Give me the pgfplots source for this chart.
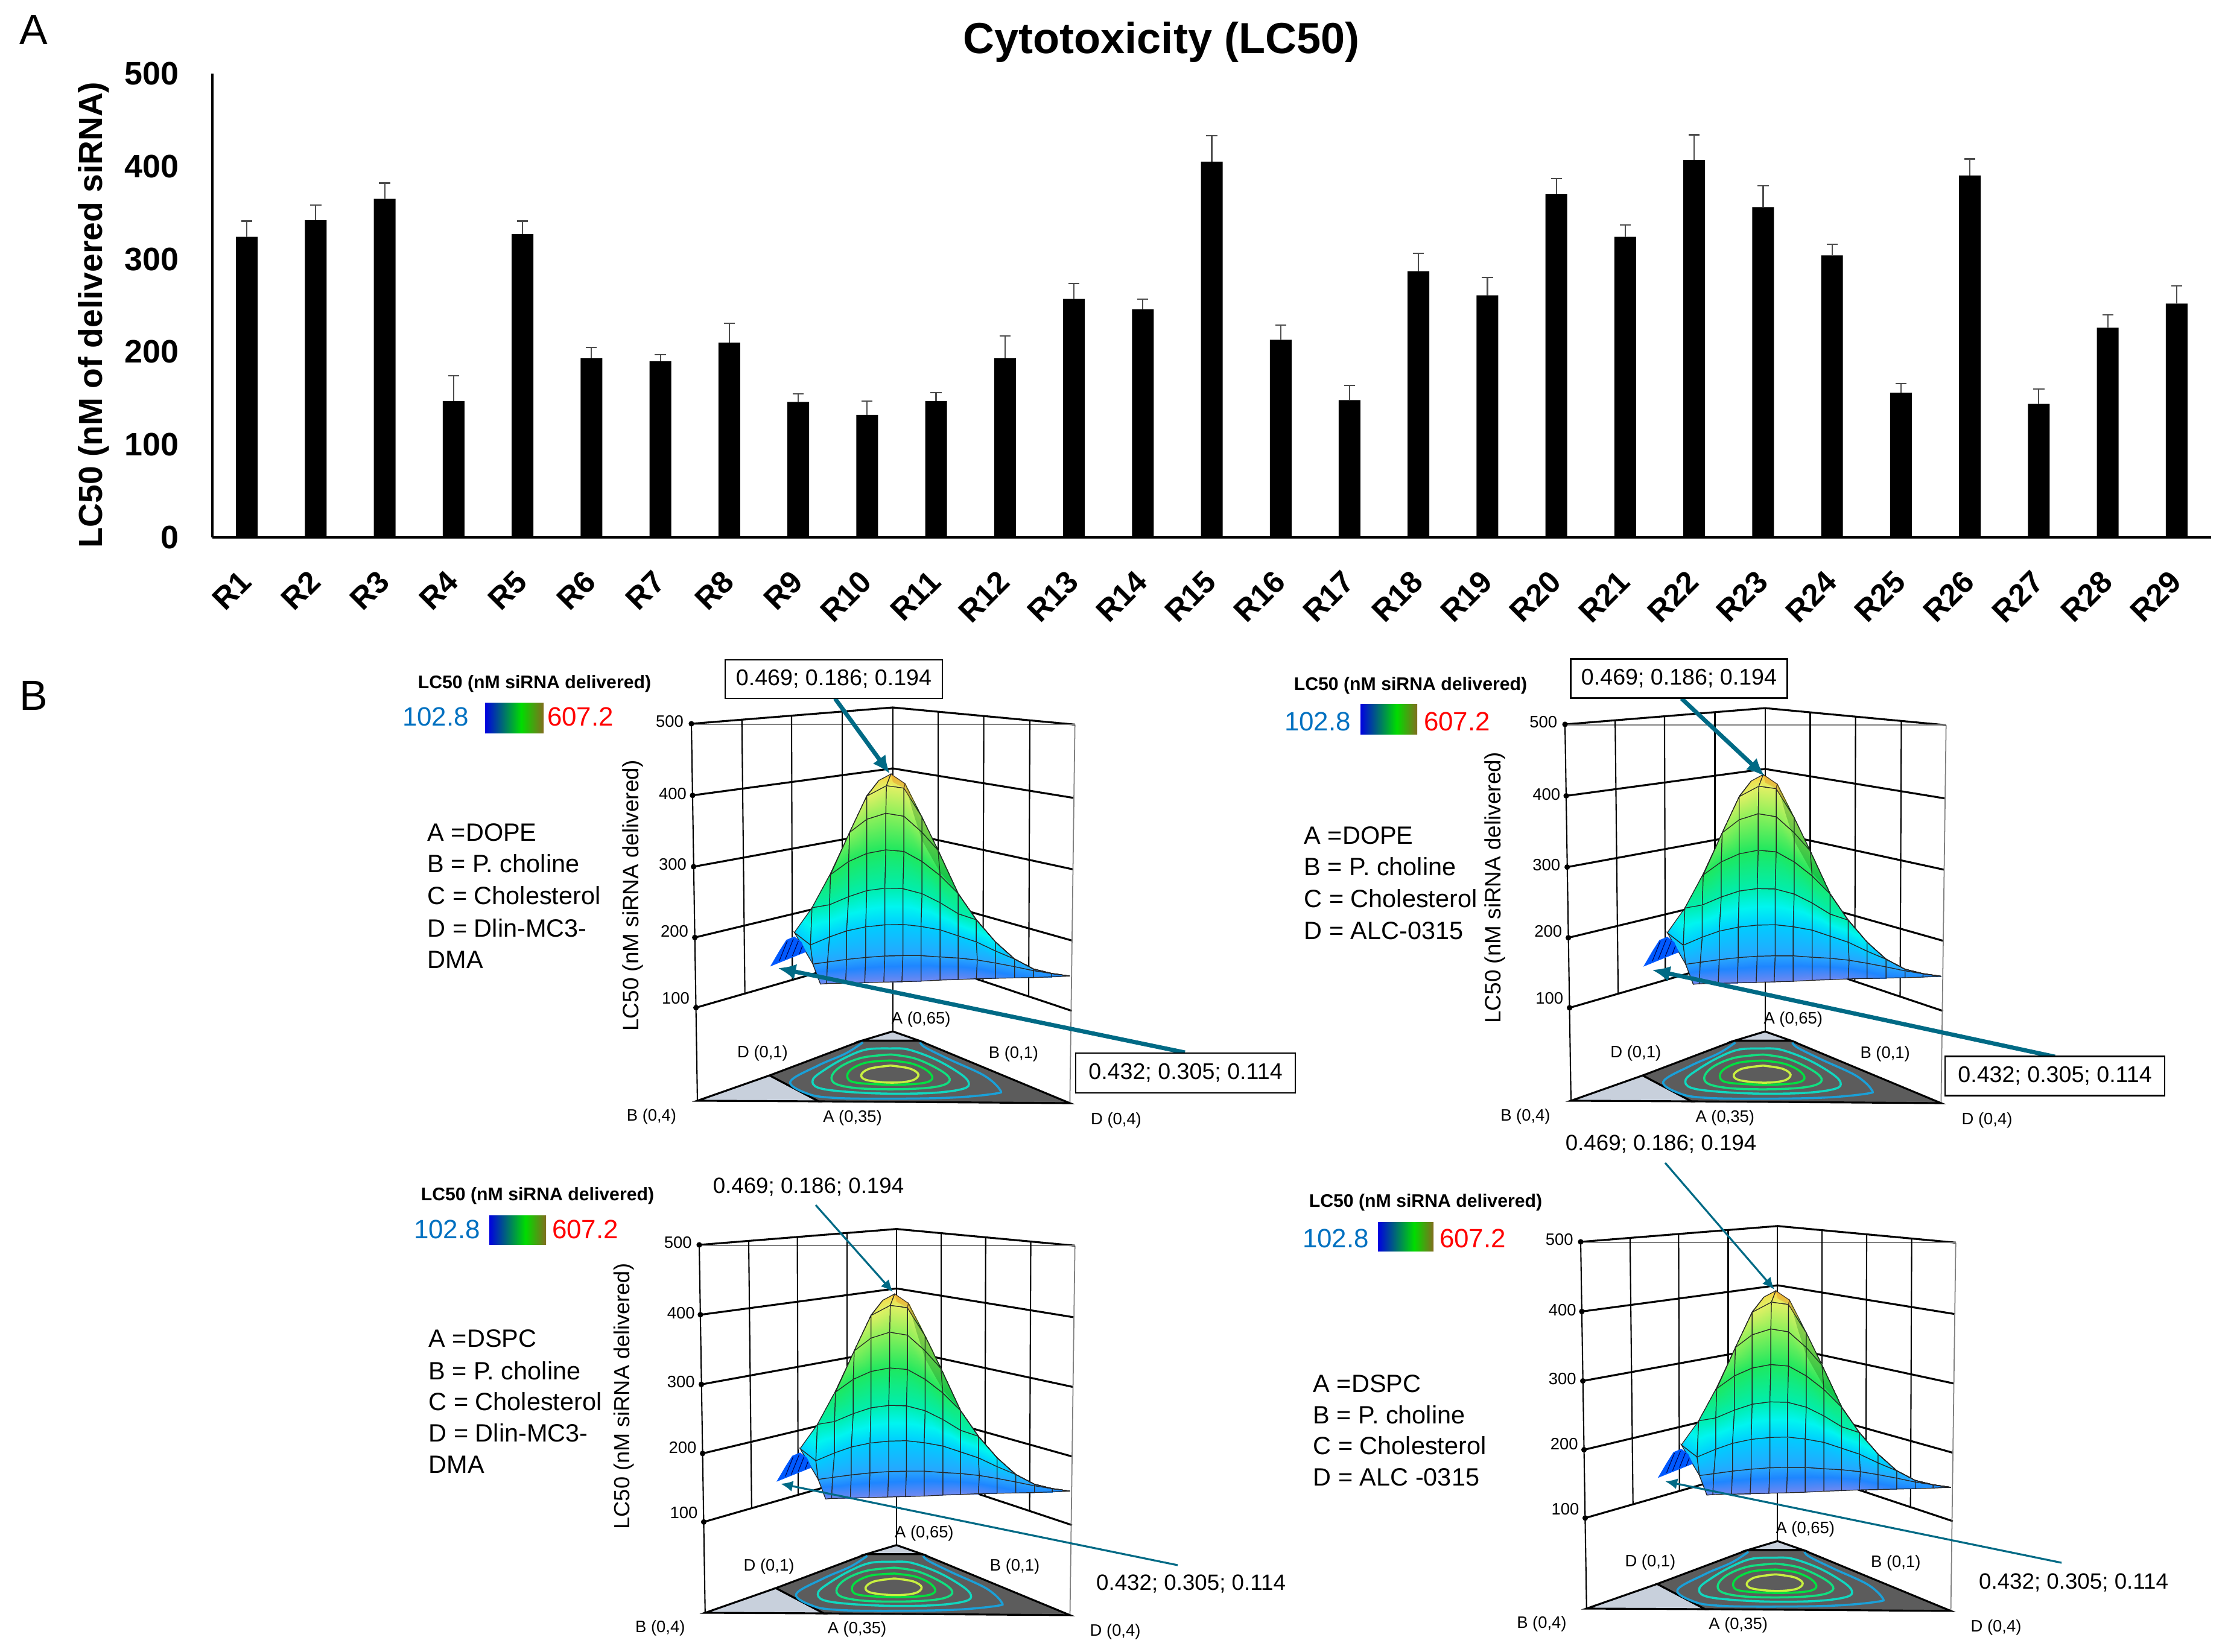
\documentclass[border=0pt]{standalone}
\usepackage{fontspec}
\setmainfont{Liberation Sans}
\usepackage{pgfplots}
\usepackage{pgfplotstable}
\pgfplotsset{compat=1.18}
\usetikzlibrary{arrows.meta}
\newcommand{\fs}[1]{\fontsize{#1}{#1}\selectfont}
\definecolor{arrowteal}{HTML}{006A85}
\definecolor{floordark}{HTML}{5C5C5C}
\definecolor{floorlight}{HTML}{C8D0DC}

% LC50 per formulation, upper end of the error bar minus bar
\pgfplotstableread{
x y err
1 324 17
2 342 16
3 365 17
4 147 27
5 327 14
6 193 12
7 190 7
8 210 21
9 146 9
10 132 15
11 147 9
12 193 24
13 257 17
14 246 11
15 405 28
16 213 16
17 148 16
18 287 19
19 261 19
20 370 17
21 324 13
22 407 27
23 356 23
24 304 12
25 156 10
26 390 18
27 144 16
28 226 14
29 252 19
}\barsdata

% response surface, projected, 8 rows of 16 points
\pgfplotstableread{
x y z
300 1115 0
300 1115 0
330 1112 0
425 1110 0
520 1108 0
615 1105 0
705 1103 0
800 1100 0
895 1095 0
985 1092 0
1075 1088 0.1
1170 1086 0.3
1265 1084 0.5
1360 1082 0.6
1450 1079 0.7
1540 1075 0.7
262 1015 1
262 1015 1
335 1005 1
430 992 1
525 982 1
620 975 1
710 973 1
800 973 1
895 980 1
985 985 1
1080 995 1
1170 1010 1
1265 1028 1
1360 1048 0.9
1450 1062 0.7
1540 1075 0.7
170 858 2
250 920 2
345 880 2
430 850 2
525 830 2
620 820 2
710 818 2
800 828 2
895 845 2
985 875 2
1075 905 2
1170 950 2
1265 990 1.5
1360 1040 1
1450 1062 0.7
1540 1075 0.7
258 735 3
258 735 3
345 720 3
440 680 3
530 650 3
620 638 3
710 640 3
805 665 3
895 710 3
985 765 3
1075 795 3
1170 905 2.3
1265 990 1.5
1360 1040 1
1450 1062 0.7
1540 1075 0.7
350 565 4
350 565 4
350 570 4
440 505 4
530 465 4
625 447 4
715 455 4
805 505 4
895 575 4
985 665 3.6
1075 795 3
1170 905 2.3
1265 990 1.5
1360 1040 1
1450 1062 0.7
1540 1075 0.7
445 360 5
445 360 5
445 360 5
445 360 5
530 295 5
625 265 5
715 280 5
805 360 5
885 450 4.7
985 665 3.6
1075 795 3
1170 905 2.3
1265 990 1.5
1360 1040 1
1450 1062 0.7
1540 1075 0.7
530 180 6
530 180 6
530 180 6
530 180 6
530 180 6
628 128 6
715 140 6
805 285 5.6
885 450 4.7
985 665 3.6
1075 795 3
1170 905 2.3
1265 990 1.5
1360 1040 1
1450 1062 0.7
1540 1075 0.7
530 178 6
530 178 6
530 178 6
530 178 6
590 102 6.5
650 70 7
720 118 6.6
805 285 5.6
885 450 4.7
985 665 3.6
1075 795 3
1170 905 2.3
1265 990 1.5
1360 1040 1
1450 1062 0.7
1540 1075 0.7
}\surfdata

\pgfplotsset{
  lcmap/.style={colormap={lc}{
    rgb255(0pt)=(112,136,240); rgb255(6pt)=(30,134,255); rgb255(10pt)=(40,165,255);
    rgb255(20pt)=(0,205,255); rgb255(25pt)=(0,245,240); rgb255(30pt)=(0,238,175);
    rgb255(40pt)=(30,232,95); rgb255(50pt)=(140,240,90); rgb255(60pt)=(225,240,100);
    rgb255(70pt)=(255,205,60)}},
  wall/.style={black,line width=0.9pt},
  rib/.style={black,line width=0.6pt},
  ring/.style={line width=1pt,smooth,tension=0.6},
}

% one 3D panel: x, y of the top-left corner from the page bottom, width, height (mm)
\newcommand{\surfpanel}[4]{%
\begin{axis}[
  at={(#1mm,#2mm)},anchor=north west,scale only axis,width=#3mm,height=#4mm,
  hide axis,clip=false,y dir=reverse,
  xmin=-342,xmax=1566,ymin=-180,ymax=1695,lcmap,point meta min=0,point meta max=7]
  % back walls
  \addplot[wall] coordinates {(-342,-180)(659,-261)(1565,-176)};
  \addplot[wall] coordinates {(-336,176)(659,42)(1560,189)};
  \addplot[wall] coordinates {(-331,531)(659,350)(1555,544)};
  \addplot[wall] coordinates {(-325,883)(659,647)(1553,899)};
  \addplot[wall] coordinates {(-319,1232)(659,950)(1550,1248)};
  \addplot[rib] coordinates {(-342,-180)(-312,1695)};
  \addplot[gray,line width=0.5pt] coordinates {(1565,-176)(1540,1707)};
  \addplot[gray,line width=0.5pt] coordinates {(-342,-176)(1565,-176)};
  \addplot[rib] coordinates {(659,-261)(659,1350)};
  \addplot[rib] coordinates {(-91,-200)(-76,1160)};
  \addplot[rib] coordinates {(156,-220)(160,1095)};
  \addplot[rib] coordinates {(408,-241)(408,1022)};
  \addplot[rib] coordinates {(885,-240)(885,1026)};
  \addplot[rib] coordinates {(1112,-218)(1108,1101)};
  \addplot[rib] coordinates {(1341,-197)(1335,1178)};
  \addplot[only marks,mark=*,mark size=1.1pt,black] coordinates {(-342,-180)(-336,176)(-331,531)(-325,883)(-319,1232)};
  % surface
  \addplot[surf,shader=faceted interp,faceted color=black!85,line width=0.35pt,
    mesh/rows=8,mesh/cols=16,point meta=\thisrow{z}] table[x=x,y=y] {\surfdata};
  % shaded right flank
  \addplot[draw=none,fill={rgb,255:red,0;green,110;blue,20},fill opacity=0.28] coordinates {(720,118)(805,285)(885,450)(985,665)(895,560)(805,400)(760,260)(720,118)};
  \addplot[draw=none,fill={rgb,255:red,220;green,130;blue,30},fill opacity=0.35] coordinates {(650,70)(720,118)(770,215)(745,190)(715,140)(660,110)(650,70)};
  % low corner in front of it
  \addplot[draw=none,fill=blue!65!cyan] coordinates {(50,1027)(95,950)(130,895)(170,878)(205,905)(228,955)(50,1027)};
  \addplot[black!70!blue,line width=0.3pt] coordinates {(95,1000)(135,900)};
  \addplot[black!70!blue,line width=0.3pt] coordinates {(125,990)(165,890)};
  \addplot[black!70!blue,line width=0.3pt] coordinates {(160,975)(190,900)};
  \addplot[black!70!blue,line width=0.3pt] coordinates {(195,965)(210,925)};
  % floor triangle
  \addplot[fill=floorlight,draw=black,line width=0.9pt] coordinates {(659,1350)(506,1396)(790,1396)(659,1350)};
  \addplot[fill=floorlight,draw=black,line width=0.9pt] coordinates {(47,1569)(-312,1695)(291,1698)(47,1569)};
  \addplot[fill=floordark,draw=black,line width=0.9pt] coordinates {(506,1396)(790,1396)(1540,1707)(291,1698)(47,1569)(506,1396)};
  % contour rings
  \addplot[ring,color={rgb,255:red,26;green,160;blue,216}] coordinates {(511,1405)(425,1460)(288,1520)(150,1600)(236,1660)(357,1680)(598,1685)(942,1680)(1166,1660)(1192,1640)(1114,1570)(942,1490)(821,1430)(796,1405)};
  \addplot[ring,color={rgb,255:red,16;green,216;blue,192}] coordinates {(649,1435)(529,1440)(425,1480)(322,1540)(262,1590)(288,1630)(425,1650)(649,1660)(873,1655)(1011,1635)(1037,1605)(994,1560)(873,1490)(735,1440)(649,1435)};
  \addplot[ring,color={rgb,255:red,16;green,224;blue,128}] coordinates {(649,1465)(511,1480)(408,1520)(357,1570)(374,1610)(477,1632)(649,1638)(821,1632)(916,1615)(942,1585)(890,1540)(770,1485)(649,1465)};
  \addplot[ring,color={rgb,255:red,0;green,224;blue,64}] coordinates {(649,1495)(529,1505)(451,1540)(434,1580)(477,1605)(649,1615)(804,1608)(856,1585)(830,1545)(753,1510)(649,1495)};
  \addplot[ring,color={rgb,255:red,200;green,240;blue,64}] coordinates {(649,1520)(546,1535)(503,1565)(529,1592)(649,1605)(753,1595)(787,1565)(744,1535)(649,1520)};
  % tick and corner labels
  \foreach \xx/\yy/\tt in {-450/-192/500,-435/168/400,-435/519/300,-426/852/200,-420/1185/100}{
    \edef\tmp{\noexpand\node[font=\noexpand\fs{7.8}] at (axis cs:\xx,\yy) {\tt};}\tmp}
  \node[font=\fs{7.8}] at (axis cs:800,1290) {A (0,65)};
  \node[font=\fs{7.8}] at (axis cs:12,1458) {D (0,1)};
  \node[font=\fs{7.8}] at (axis cs:1260,1461) {B (0,1)};
  \node[font=\fs{7.8}] at (axis cs:-540,1773) {B (0,4)};
  \node[font=\fs{7.8}] at (axis cs:459,1779) {A (0,35)};
  \node[font=\fs{7.8}] at (axis cs:1770,1791) {D (0,4)};
\end{axis}}

% colour scale next to a panel: text centre y, bar x0, x1, y0, y1
\newcommand{\scalebar}[5]{%
  \addplot[draw=none,shade,shading=axis,left color={rgb,255:red,0;green,0;blue,225},right color={rgb,255:red,0;green,220;blue,0}] coordinates {(#2,#4)(#2+60,#4)(#2+60,#5)(#2,#5)} --cycle;
  \addplot[draw=none,shade,shading=axis,left color={rgb,255:red,0;green,220;blue,0},right color={rgb,255:red,130;green,110;blue,30}] coordinates {(#2+60,#4)(#3,#4)(#3,#5)(#2+60,#5)} --cycle;
}

\begin{document}
\begin{tikzpicture}
\path[use as bounding box] (0,0) rectangle (368.8mm,273.8mm);

% panel A
\begin{axis}[
  at={(35.2mm,184.7mm)},anchor=south west,scale only axis,width=331.3mm,height=76.9mm,
  axis x line=bottom,axis y line=left,axis line style={-,line width=1.2pt},
  xmin=0.5,xmax=29.5,ymin=0,ymax=500,
  ytick={0,100,200,300,400,500},
  xtick={1,...,29},
  xticklabels={R1,R2,R3,R4,R5,R6,R7,R8,R9,R10,R11,R12,R13,R14,R15,R16,R17,R18,R19,R20,R21,R22,R23,R24,R25,R26,R27,R28,R29},
  major tick length=0pt,
  /pgf/number format/assume math mode=true,
  ticklabel style={font=\bfseries},
  yticklabel style={font=\bfseries\fs{15.3},xshift=-4.3mm},
  xticklabel style={font=\bfseries\fs{14.6},rotate=45,anchor=east,xshift=-3.47mm,yshift=-4.47mm},
  title={Cytotoxicity (LC50)},
  title style={font=\bfseries\fs{20.5},at={(axis description cs:0.4748,1.041)},anchor=center},
  ylabel={LC50 (nM of delivered siRNA)},
  every axis y label/.style={font=\bfseries\fs{15.7},at={(axis description cs:-0.0595,0.48)},rotate=90,anchor=center},
]
  \addplot[ybar,bar width=3.6mm,bar shift=0pt,fill=black,draw=none,
    error bars/.cd,y dir=plus,y explicit,
    error bar style={color=black!70,line width=0.6pt},
    error mark options={rotate=90,mark size=2.6pt,line width=0.6pt,color=black!70}]
    table[x=x,y=y,y error=err] {\barsdata};
\end{axis}

\surfpanel{114.6}{153.8}{63.6}{62.5}
\surfpanel{259.4}{153.7}{63.2}{62.4}
\surfpanel{115.9}{67.4}{62.3}{61.0}
\surfpanel{262.0}{67.9}{62.2}{60.8}

% texts, colour scales and call-outs, on a page-sized pixel grid
\begin{axis}[
  at={(0,0)},anchor=south west,scale only axis,width=368.8mm,height=273.8mm,
  hide axis,clip=false,y dir=reverse,xmin=0,xmax=3688,ymin=0,ymax=2738]

  \node[font=\fs{19.9}] at (axis cs:56,49) {A};
  \node[font=\fs{19.9}] at (axis cs:56,1153) {B};

  \scalebar{1188}{804}{901}{1165}{1215}
  \scalebar{1196}{2255}{2349}{1167}{1217}
  \scalebar{2038}{811}{905}{2015}{2063}
  \scalebar{2053}{2284}{2376}{2026}{2074}

  \node[font=\bfseries\fs{8.6}] at (axis cs:886,1134) {LC50 (nM siRNA delivered)};
  \node[font=\bfseries\fs{8.6}] at (axis cs:2338,1137) {LC50 (nM siRNA delivered)};
  \node[font=\bfseries\fs{8.6}] at (axis cs:891,1983) {LC50 (nM siRNA delivered)};
  \node[font=\bfseries\fs{8.6}] at (axis cs:2363,1994) {LC50 (nM siRNA delivered)};

  \node[font=\fs{12.5},text={rgb,255:red,0;green,112;blue,192}] at (axis cs:722,1188) {102.8};
  \node[font=\fs{12.5},text={rgb,255:red,0;green,112;blue,192}] at (axis cs:2184,1196) {102.8};
  \node[font=\fs{12.5},text={rgb,255:red,0;green,112;blue,192}] at (axis cs:741,2038) {102.8};
  \node[font=\fs{12.5},text={rgb,255:red,0;green,112;blue,192}] at (axis cs:2214,2053) {102.8};
  \node[font=\fs{12.5},text=red] at (axis cs:962,1188) {607.2};
  \node[font=\fs{12.5},text=red] at (axis cs:2415,1196) {607.2};
  \node[font=\fs{12.5},text=red] at (axis cs:970,2038) {607.2};
  \node[font=\fs{12.5},text=red] at (axis cs:2441,2053) {607.2};

  \node[font=\fs{10.5},rotate=90] at (axis cs:1049,1485) {LC50 (nM siRNA delivered)};
  \node[font=\fs{10.5},rotate=90] at (axis cs:2478,1472) {LC50 (nM siRNA delivered)};
  \node[font=\fs{10.3},rotate=90] at (axis cs:1034,2315) {LC50 (nM siRNA delivered)};

  % component lists
  \node[font=\fs{11.8},anchor=base west,inner sep=0pt] at (axis cs:708,1394) {A =DOPE};
  \node[font=\fs{11.8},anchor=base west,inner sep=0pt] at (axis cs:708,1446) {B = P. choline};
  \node[font=\fs{11.8},anchor=base west,inner sep=0pt] at (axis cs:708,1499) {C = Cholesterol};
  \node[font=\fs{11.8},anchor=base west,inner sep=0pt] at (axis cs:708,1553) {D = Dlin-MC3-};
  \node[font=\fs{11.8},anchor=base west,inner sep=0pt] at (axis cs:708,1605) {DMA};

  \node[font=\fs{11.8},anchor=base west,inner sep=0pt] at (axis cs:2161,1399) {A =DOPE};
  \node[font=\fs{11.8},anchor=base west,inner sep=0pt] at (axis cs:2161,1451) {B = P. choline};
  \node[font=\fs{11.8},anchor=base west,inner sep=0pt] at (axis cs:2161,1504) {C = Cholesterol};
  \node[font=\fs{11.8},anchor=base west,inner sep=0pt] at (axis cs:2161,1557) {D = ALC-0315};

  \node[font=\fs{11.8},anchor=base west,inner sep=0pt] at (axis cs:710,2233) {A =DSPC};
  \node[font=\fs{11.8},anchor=base west,inner sep=0pt] at (axis cs:710,2287) {B = P. choline};
  \node[font=\fs{11.8},anchor=base west,inner sep=0pt] at (axis cs:710,2338) {C = Cholesterol};
  \node[font=\fs{11.8},anchor=base west,inner sep=0pt] at (axis cs:710,2390) {D = Dlin-MC3-};
  \node[font=\fs{11.8},anchor=base west,inner sep=0pt] at (axis cs:710,2442) {DMA};

  \node[font=\fs{11.8},anchor=base west,inner sep=0pt] at (axis cs:2176,2308) {A =DSPC};
  \node[font=\fs{11.8},anchor=base west,inner sep=0pt] at (axis cs:2176,2360) {B = P. choline};
  \node[font=\fs{11.8},anchor=base west,inner sep=0pt] at (axis cs:2176,2411) {C = Cholesterol};
  \node[font=\fs{11.8},anchor=base west,inner sep=0pt] at (axis cs:2176,2463) {D = ALC -0315};

  % call-outs
  \addplot[arrowteal,line width=0.7mm,-{Latex[length=3mm,width=2.6mm]}] coordinates {(1384,1158)(1475,1283)};
  \addplot[arrowteal,line width=0.7mm,-{Latex[length=3mm,width=2.6mm]}] coordinates {(1964,1745)(1289,1605)};
  \addplot[arrowteal,line width=0.7mm,-{Latex[length=3mm,width=2.6mm]}] coordinates {(2787,1158)(2925,1287)};
  \addplot[arrowteal,line width=0.7mm,-{Latex[length=3mm,width=2.6mm]}] coordinates {(3406,1752)(2738,1608)};
  \addplot[arrowteal,line width=0.32mm,-{Latex[length=2mm,width=1.8mm]}] coordinates {(1352,1998)(1480,2142)};
  \addplot[arrowteal,line width=0.32mm,-{Latex[length=2mm,width=1.8mm]}] coordinates {(1952,2595)(1294,2460)};
  \addplot[arrowteal,line width=0.32mm,-{Latex[length=2mm,width=1.8mm]}] coordinates {(2760,1928)(2941,2138)};
  \addplot[arrowteal,line width=0.32mm,-{Latex[length=2mm,width=1.8mm]}] coordinates {(3417,2591)(2760,2456)};

  \node[font=\fs{10.7},draw=black,line width=0.7pt,fill=white,minimum width=36mm,minimum height=6.4mm,inner sep=0pt] at (axis cs:1382,1126) {0.469; 0.186; 0.194};
  \node[font=\fs{10.7},draw=black,line width=0.7pt,fill=white,minimum width=36.4mm,minimum height=6.6mm,inner sep=0pt] at (axis cs:1965,1779) {0.432; 0.305; 0.114};
  \node[font=\fs{10.7},draw=black,line width=0.7pt,fill=white,minimum width=35.9mm,minimum height=6.5mm,inner sep=0pt] at (axis cs:2783,1125) {0.469; 0.186; 0.194};
  \node[font=\fs{10.7},draw=black,line width=0.7pt,fill=white,minimum width=36.4mm,minimum height=6.5mm,inner sep=0pt] at (axis cs:3406,1784) {0.432; 0.305; 0.114};
  \node[font=\fs{10.45}] at (axis cs:1340,1968) {0.469; 0.186; 0.194};
  \node[font=\fs{10.45}] at (axis cs:1974,2626) {0.432; 0.305; 0.114};
  \node[font=\fs{10.45}] at (axis cs:2753,1897) {0.469; 0.186; 0.194};
  \node[font=\fs{10.45}] at (axis cs:3437,2624) {0.432; 0.305; 0.114};
\end{axis}
\end{tikzpicture}
\end{document}
